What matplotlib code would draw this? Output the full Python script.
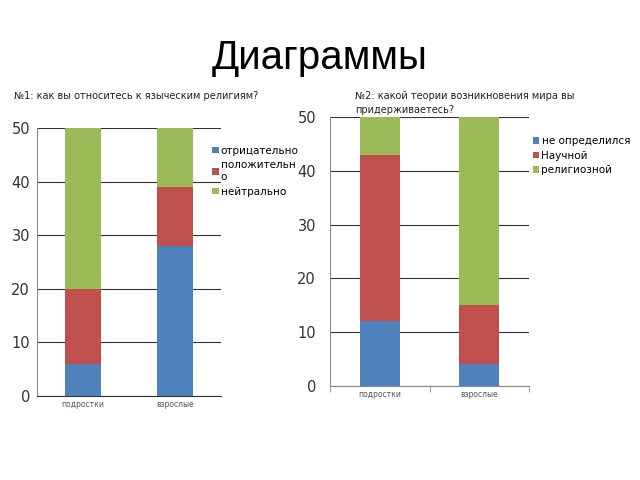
import numpy as np
import matplotlib.pyplot as plt

groups = ['подростки', 'взрослые']

# №1
labels1 = ['отрицательно', 'положительн\nо', 'нейтрально']
vals1 = [[6, 28], [14, 11], [30, 11]]

# №2
labels2 = ['не определился', 'Научной', 'религиозной']
vals2 = [[12, 4], [31, 11], [7, 35]]

colors = ['#4F81BD', '#C0504D', '#9BBB59']
W, H = 640, 480

fig = plt.figure(figsize=(6.4, 4.8), dpi=100)
fig.text(0.5, 1 - 58 / H, 'Диаграммы', ha='center', va='center',
         fontsize=29, family='Liberation Sans')


def px_axes(x0, y0, x1, y1):
    return fig.add_axes([x0 / W, 1 - y1 / H, (x1 - x0) / W, (y1 - y0) / H])


def stacked(ax, vals, labels):
    x = np.arange(len(groups))
    bottom = np.zeros(len(groups))
    for v, lab, c in zip(vals, labels, colors):
        ax.bar(x, v, 0.4, bottom=bottom, color=c, label=lab, zorder=2)
        bottom += np.array(v)
    ax.set_xlim(-0.5, 1.5)
    ax.set_ylim(0, 50)
    ax.set_yticks(range(0, 51, 10))
    ax.set_xticks(x)
    ax.set_xticklabels(groups, fontsize=5.5, color='#555555')
    ax.tick_params(axis='x', length=0, pad=3)
    ax.tick_params(axis='y', labelsize=10.5, length=0, pad=5, labelcolor='#333333')
    ax.grid(axis='y', color='#333333', linewidth=0.8, zorder=0)
    for s in ['top', 'right']:
        ax.spines[s].set_visible(False)
    ax.spines['left'].set_color('#888888')
    ax.spines['left'].set_linewidth(0.8)
    ax.spines['bottom'].set_linewidth(0.8)


ax1 = px_axes(37, 128, 221, 396)
stacked(ax1, vals1, labels1)
ax1.spines['bottom'].set_color('#333333')
ax1.legend(loc='upper left', bbox_to_anchor=(0.93, 0.95), frameon=False,
           fontsize=7.5, handlelength=0.6, handleheight=0.6, handletextpad=0.2,
           labelspacing=0.45, borderaxespad=0)
fig.text(14 / W, 1 - 96 / H, '№1: как вы относитесь к языческим религиям?',
         fontsize=7, va='center', color='#222222')

ax2 = px_axes(330, 117, 529, 386)
stacked(ax2, vals2, labels2)
ax2.spines['bottom'].set_color('#888888')
ax2.set_xticks([-0.5, 0.5, 1.5], minor=True)
ax2.tick_params(axis='x', which='minor', length=4, color='#888888', direction='out')
ax2.tick_params(axis='y', pad=10)
ax2.legend(loc='upper left', bbox_to_anchor=(1.0, 0.945), frameon=False,
           fontsize=7.5, handlelength=0.6, handleheight=0.6, handletextpad=0.2,
           labelspacing=0.45, borderaxespad=0)
fig.text(355 / W, 1 - 103 / H, '№2: какой теории возникновения мира вы\nпридерживаетесь?',
         fontsize=7, va='center', color='#222222', linespacing=1.5)

fig.savefig('out.png', dpi=100)
